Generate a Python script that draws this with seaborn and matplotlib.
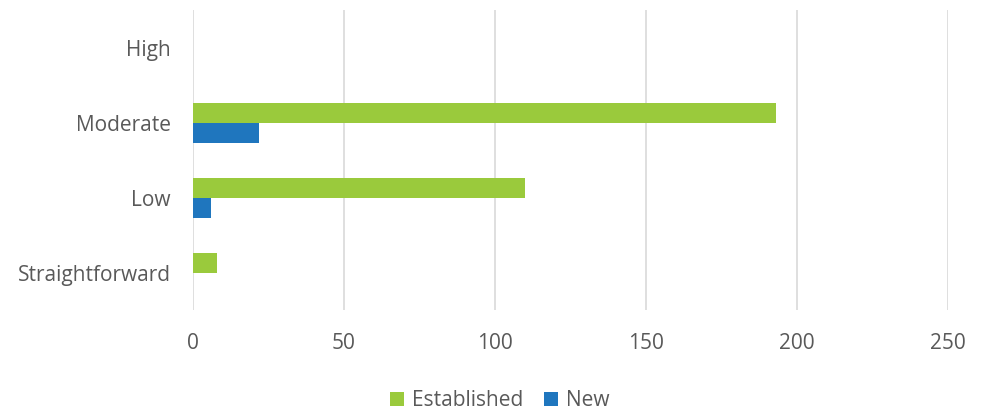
import matplotlib
matplotlib.use("Agg")
import matplotlib.pyplot as plt
import seaborn as sns
import pandas as pd

categories = ["High", "Moderate", "Low", "Straightforward"]
established = [0, 193, 110, 8]
new = [0, 22, 6, 0]
series_names = ["Established", "New"]
x_ticks = [0, 50, 100, 150, 200, 250]

df = pd.DataFrame({
    "category": categories * 2,
    "value": established + new,
    "series": [series_names[0]] * len(categories) + [series_names[1]] * len(categories),
})

sns.set_theme(style="white")
plt.rcParams["font.family"] = ["Open Sans", "DejaVu Sans"]

fig = plt.figure(figsize=(9.87, 4.19), dpi=100)
ax = fig.add_axes([0.1955, 0.259, 0.765, 0.716])

palette = {"Established": "#9ACA3C", "New": "#1F76BE"}
sns.barplot(data=df, y="category", x="value", hue="series", order=categories,
            hue_order=series_names, palette=palette, width=0.54, orient="h",
            ax=ax, saturation=1, legend=True, linewidth=0)

ax.set_xlim(0, 250)
ax.set_ylim(3.5, -0.5)
ax.set_xticks(x_ticks)
ax.set_xticklabels([str(t) for t in x_ticks])
ax.set_xlabel("")
ax.set_ylabel("")
ax.grid(axis="x", color="#D9D9D9", linewidth=1.2)
ax.set_axisbelow(True)
for s in ax.spines.values():
    s.set_visible(False)
ax.tick_params(axis="both", length=0, labelsize=15, labelcolor="#595959")
ax.tick_params(axis="x", pad=16)
ax.tick_params(axis="y", pad=16)

handles, labels = ax.get_legend_handles_labels()
ax.legend_.remove()
fig.legend(handles, labels, loc="center", bbox_to_anchor=(0.506, 0.043), ncol=2,
           frameon=False, fontsize=15, handlelength=0.7, handleheight=0.7,
           handletextpad=0.35, columnspacing=1.0, labelcolor="#595959")

fig.savefig("out.png", dpi=100)
